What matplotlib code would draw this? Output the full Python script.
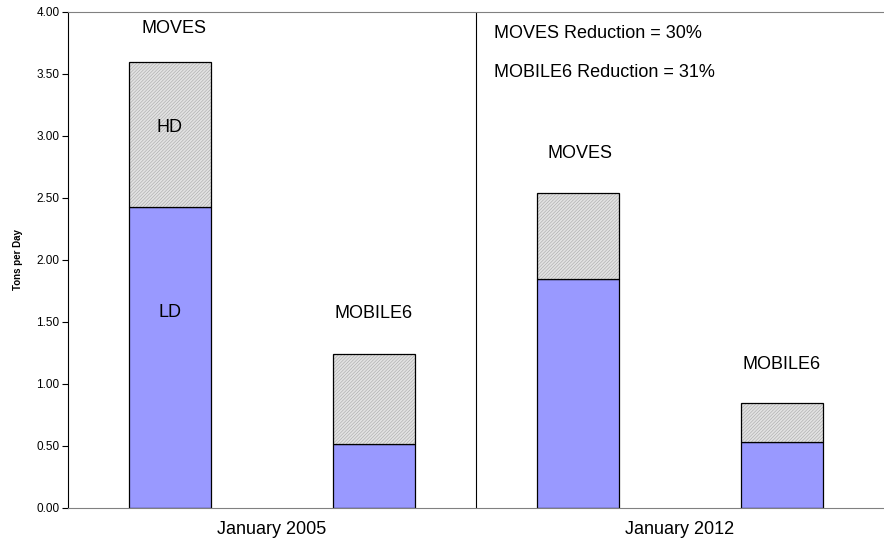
import matplotlib
matplotlib.use("Agg")
import matplotlib.pyplot as plt

plt.rcParams["font.family"] = ["Liberation Sans", "DejaVu Sans"]
plt.rcParams["hatch.linewidth"] = 0.4

# values (tons per day)
groups = ["January 2005", "January 2012"]
bar_models = ["MOVES", "MOBILE6", "MOVES", "MOBILE6"]
ld_values = [2.43, 0.52, 1.85, 0.53]
hd_values = [1.17, 0.72, 0.69, 0.32]
reductions = {"MOVES": 30, "MOBILE6": 31}

fig = plt.figure(figsize=(8.84, 5.38), dpi=100)
ax = fig.add_axes([68 / 884, 30 / 538, 816 / 884, 496 / 538])

x = [0.5, 1.5, 2.5, 3.5]
width = 0.4
ax.bar(x, ld_values, width, color="#9999ff", edgecolor="black", linewidth=0.9)
# hatch fill (hatch takes the edge colour), then a black outline on top
ax.bar(x, hd_values, width, bottom=ld_values, color="#e2e2e2",
       edgecolor="#a8a8a8", linewidth=0, hatch="//////////")
ax.bar(x, hd_values, width, bottom=ld_values, fill=False,
       edgecolor="black", linewidth=0.9)

ax.set_xlim(0, 4)
ax.set_ylim(0, 4)
ax.set_yticks([i * 0.5 for i in range(9)])
ax.set_yticklabels([f"{i * 0.5:.2f}" for i in range(9)], fontsize=8.5)
ax.tick_params(axis="y", direction="out", length=4, width=0.8, pad=2)
ax.set_xticks([1.0, 3.0])
ax.set_xticklabels(groups, fontsize=13)
ax.tick_params(axis="x", length=0, pad=9)
ax.set_ylabel("Tons per Day", fontsize=7, fontweight="bold", labelpad=10)

ax.spines["left"].set_color("black")
ax.spines["top"].set_color("#808080")
ax.spines["bottom"].set_color("#808080")
ax.spines["right"].set_visible(False)
ax.axvline(2.0, color="black", linewidth=0.8)

fs = 13
ax.text(0.52, 3.87, bar_models[0], ha="center", va="center", fontsize=fs)
ax.text(0.5, 3.07, "HD", ha="center", va="center", fontsize=fs)
ax.text(0.5, 1.58, "LD", ha="center", va="center", fontsize=fs)
ax.text(1.5, 1.57, bar_models[1], ha="center", va="center", fontsize=fs)
ax.text(2.51, 2.86, bar_models[2], ha="center", va="center", fontsize=fs)
ax.text(3.5, 1.16, bar_models[3], ha="center", va="center", fontsize=fs)
ax.text(2.09, 3.83, f"MOVES Reduction = {reductions['MOVES']}%",
        ha="left", va="center", fontsize=fs)
ax.text(2.09, 3.51, f"MOBILE6 Reduction = {reductions['MOBILE6']}%",
        ha="left", va="center", fontsize=fs)

fig.savefig("out.png", dpi=100)
